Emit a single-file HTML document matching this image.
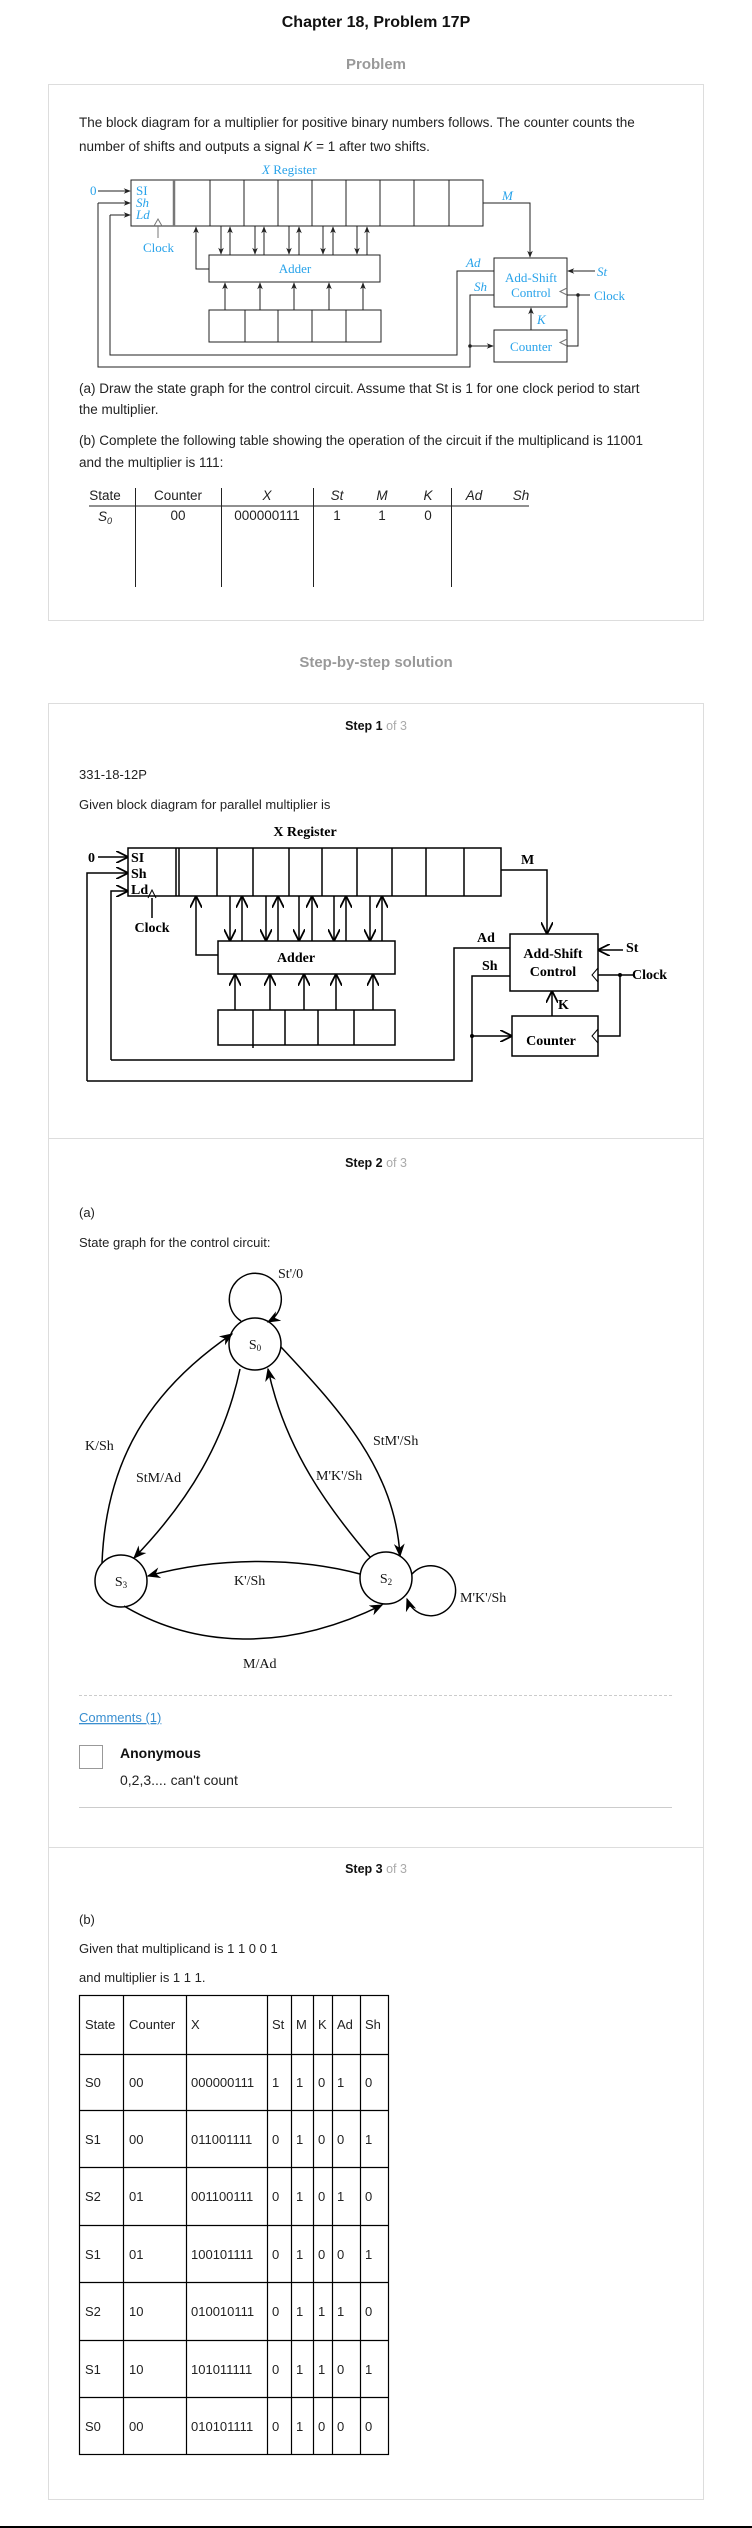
<!DOCTYPE html>
<html><head><meta charset="utf-8"><style>
html,body{margin:0;padding:0;background:#fff;}
svg{display:block;}
.s{font-family:"Liberation Sans",Arial,sans-serif;}
.r{font-family:"Liberation Serif","Times New Roman",serif;}
</style></head><body>
<svg width="752" height="2528" viewBox="0 0 752 2528" xmlns="http://www.w3.org/2000/svg">
<defs>
<marker id="a" viewBox="0 0 10 10" refX="9" refY="5" markerWidth="7" markerHeight="7" orient="auto-start-reverse"><path d="M0,1 L10,5 L0,9 L3,5 z" fill="#222"/></marker>
<marker id="b" viewBox="0 0 10 10" refX="9" refY="5" markerWidth="8" markerHeight="8" orient="auto-start-reverse"><path d="M0,0 L10,5 L0,10 M10,5" fill="none" stroke="#000" stroke-width="1.5"/></marker>
<marker id="c" viewBox="0 0 10 10" refX="9" refY="5" markerWidth="9" markerHeight="9" orient="auto-start-reverse"><path d="M0,1 L10,5 L0,9 L3,5 z" fill="#000"/></marker>
</defs>

<!-- Header -->
<text x="376" y="27" text-anchor="middle" class="s" font-size="16" font-weight="bold" fill="#111">Chapter 18, Problem 17P</text>
<text x="376" y="69" text-anchor="middle" class="s" font-size="15" font-weight="bold" fill="#999">Problem</text>
<rect x="48.5" y="84.5" width="655" height="536" fill="none" stroke="#ddd"/>

<g class="s" font-size="13.5" fill="#222">
<text x="79" y="127">The block diagram for a multiplier for positive binary numbers follows. The counter counts the</text>
<text x="79" y="151">number of shifts and outputs a signal <tspan font-style="italic">K</tspan> = 1 after two shifts.</text>
<text x="79" y="393">(a) Draw the state graph for the control circuit. Assume that St is 1 for one clock period to start</text>
<text x="79" y="414">the multiplier.</text>
<text x="79" y="445">(b) Complete the following table showing the operation of the circuit if the multiplicand is 11001</text>
<text x="79" y="467">and the multiplier is 111:</text>
</g>

<!-- Problem diagram -->
<g stroke="#222" stroke-width="1" fill="none">
<rect x="131" y="180" width="352" height="46"/>
<line x1="174" y1="180" x2="174" y2="226" stroke="#777" stroke-width="2.5"/>
<line x1="210" y1="180" x2="210" y2="226"/><line x1="244" y1="180" x2="244" y2="226"/>
<line x1="278" y1="180" x2="278" y2="226"/><line x1="312" y1="180" x2="312" y2="226"/>
<line x1="346" y1="180" x2="346" y2="226"/><line x1="380" y1="180" x2="380" y2="226"/>
<line x1="414" y1="180" x2="414" y2="226"/><line x1="449" y1="180" x2="449" y2="226"/>
<path d="M154,226 L158,219 L162,226" stroke="#777"/>
<line x1="158" y1="226" x2="158" y2="238" stroke="#777"/>
<line x1="98" y1="191" x2="130" y2="191" marker-end="url(#a)"/>
<line x1="98" y1="203" x2="130" y2="203" marker-end="url(#a)"/>
<line x1="110" y1="215" x2="130" y2="215" marker-end="url(#a)"/>
<rect x="209" y="255" width="171" height="27"/>
<path d="M209,269 H196 V227" marker-end="url(#a)"/>
<line x1="221" y1="226" x2="221" y2="254" marker-end="url(#a)"/><line x1="230" y1="255" x2="230" y2="227" marker-end="url(#a)"/>
<line x1="255" y1="226" x2="255" y2="254" marker-end="url(#a)"/><line x1="264" y1="255" x2="264" y2="227" marker-end="url(#a)"/>
<line x1="289" y1="226" x2="289" y2="254" marker-end="url(#a)"/><line x1="299" y1="255" x2="299" y2="227" marker-end="url(#a)"/>
<line x1="323" y1="226" x2="323" y2="254" marker-end="url(#a)"/><line x1="333" y1="255" x2="333" y2="227" marker-end="url(#a)"/>
<line x1="357" y1="226" x2="357" y2="254" marker-end="url(#a)"/><line x1="367" y1="255" x2="367" y2="227" marker-end="url(#a)"/>
<rect x="209" y="310" width="172" height="32"/>
<line x1="245" y1="310" x2="245" y2="342"/><line x1="278" y1="310" x2="278" y2="342"/>
<line x1="312" y1="310" x2="312" y2="342"/><line x1="346" y1="310" x2="346" y2="342"/>
<line x1="225" y1="310" x2="225" y2="283" marker-end="url(#a)"/><line x1="260" y1="310" x2="260" y2="283" marker-end="url(#a)"/>
<line x1="294" y1="310" x2="294" y2="283" marker-end="url(#a)"/><line x1="329" y1="310" x2="329" y2="283" marker-end="url(#a)"/>
<line x1="363" y1="310" x2="363" y2="283" marker-end="url(#a)"/>
<path d="M483,203 H530 V257" marker-end="url(#a)"/>
<rect x="494" y="258" width="73" height="49"/>
<rect x="494" y="330" width="73" height="32"/>
<line x1="595" y1="271" x2="568" y2="271" marker-end="url(#a)"/>
<path d="M567,295 L560,291.5 L567,288" stroke="#777"/>
<path d="M567,346 L560,342.5 L567,339" stroke="#777"/>
<path d="M590,295 H567 M578,295 V346 H567"/>
<line x1="531" y1="330" x2="531" y2="308" marker-end="url(#a)"/>
<path d="M494,271 H457 V355 H110 V215"/>
<path d="M494,295 H470 V367 H98 V203"/>
<line x1="470" y1="346" x2="493" y2="346" marker-end="url(#a)"/>
</g>
<circle cx="578" cy="295" r="1.8" fill="#222"/><circle cx="470" cy="346" r="1.8" fill="#222"/>
<g class="r" font-size="13" fill="#29a3ea">
<text x="262" y="174"><tspan font-style="italic">X</tspan> Register</text>
<text x="90" y="195">0</text>
<text x="136" y="195">SI</text>
<text x="136" y="207" font-style="italic">Sh</text>
<text x="136" y="219" font-style="italic">Ld</text>
<text x="143" y="252">Clock</text>
<text x="295" y="273" text-anchor="middle">Adder</text>
<text x="502" y="200" font-style="italic">M</text>
<text x="466" y="267" font-style="italic">Ad</text>
<text x="474" y="291" font-style="italic">Sh</text>
<text x="531" y="282" text-anchor="middle">Add-Shift</text>
<text x="531" y="297" text-anchor="middle">Control</text>
<text x="531" y="351" text-anchor="middle">Counter</text>
<text x="537" y="324" font-style="italic">K</text>
<text x="597" y="276" font-style="italic">St</text>
<text x="594" y="300">Clock</text>
</g>

<!-- Problem table -->
<g class="s" font-size="13.5" fill="#222" text-anchor="middle">
<text x="105" y="500">State</text><text x="178" y="500">Counter</text>
<text x="267" y="500" font-style="italic">X</text><text x="337" y="500" font-style="italic">St</text>
<text x="382" y="500" font-style="italic">M</text><text x="428" y="500" font-style="italic">K</text>
<text x="474" y="500" font-style="italic">Ad</text><text x="521" y="500" font-style="italic">Sh</text>
<text x="105" y="521" font-style="italic">S<tspan font-size="9" dy="3">0</tspan></text>
<text x="178" y="520">00</text><text x="267" y="520">000000111</text>
<text x="337" y="520">1</text><text x="382" y="520">1</text><text x="428" y="520">0</text>
</g>
<g stroke="#222" stroke-width="1">
<line x1="89" y1="506" x2="529" y2="506"/>
<line x1="135.5" y1="488" x2="135.5" y2="587"/><line x1="221.5" y1="488" x2="221.5" y2="587"/>
<line x1="313.5" y1="488" x2="313.5" y2="587"/><line x1="451.5" y1="488" x2="451.5" y2="587"/>
</g>

<!-- Solution -->
<text x="376" y="667" text-anchor="middle" class="s" font-size="15" font-weight="bold" fill="#999">Step-by-step solution</text>
<rect x="48.5" y="703.5" width="655" height="1796" fill="none" stroke="#ddd"/>
<line x1="48" y1="1138.5" x2="704" y2="1138.5" stroke="#ddd"/>
<line x1="48" y1="1847.5" x2="704" y2="1847.5" stroke="#ddd"/>

<text x="376" y="730" text-anchor="middle" class="s" font-size="12.5" font-weight="bold" fill="#111">Step 1 <tspan font-weight="normal" fill="#aaa">of 3</tspan></text>
<text x="79" y="779" class="s" font-size="13" fill="#222">331-18-12P</text>
<text x="79" y="809" class="s" font-size="13" fill="#222">Given block diagram for parallel multiplier is</text>

<!-- Step1 diagram -->
<g stroke="#000" stroke-width="1.5" fill="none">
<rect x="128" y="848" width="373" height="48"/>
<line x1="176" y1="848" x2="176" y2="896"/><line x1="179" y1="848" x2="179" y2="896"/>
<line x1="217" y1="848" x2="217" y2="896"/><line x1="253" y1="848" x2="253" y2="896"/>
<line x1="289" y1="848" x2="289" y2="896"/><line x1="322" y1="848" x2="322" y2="896"/>
<line x1="357" y1="848" x2="357" y2="896"/><line x1="392" y1="848" x2="392" y2="896"/>
<line x1="426" y1="848" x2="426" y2="896"/><line x1="464" y1="848" x2="464" y2="896"/>
<path d="M148,898 L152,890 L156,898" stroke-width="1"/>
<line x1="152" y1="898" x2="152" y2="918"/>
<line x1="98" y1="857" x2="127" y2="857" marker-end="url(#b)"/>
<path d="M87,1081 V873 H127" marker-end="url(#b)"/>
<path d="M111,1060 V891 H127" marker-end="url(#b)"/>
<rect x="218" y="941" width="177" height="33"/>
<path d="M218,955 H196 V897" marker-end="url(#b)"/>
<line x1="230" y1="896" x2="230" y2="940" marker-end="url(#b)"/><line x1="242" y1="941" x2="242" y2="897" marker-end="url(#b)"/>
<line x1="266" y1="896" x2="266" y2="940" marker-end="url(#b)"/><line x1="278" y1="941" x2="278" y2="897" marker-end="url(#b)"/>
<line x1="299" y1="896" x2="299" y2="940" marker-end="url(#b)"/><line x1="312" y1="941" x2="312" y2="897" marker-end="url(#b)"/>
<line x1="334" y1="896" x2="334" y2="940" marker-end="url(#b)"/><line x1="346" y1="941" x2="346" y2="897" marker-end="url(#b)"/>
<line x1="370" y1="896" x2="370" y2="940" marker-end="url(#b)"/><line x1="382" y1="941" x2="382" y2="897" marker-end="url(#b)"/>
<rect x="218" y="1010" width="177" height="35"/>
<line x1="253" y1="1010" x2="253" y2="1048"/><line x1="285" y1="1010" x2="285" y2="1045"/>
<line x1="318" y1="1010" x2="318" y2="1045"/><line x1="354" y1="1010" x2="354" y2="1045"/>
<line x1="235" y1="1010" x2="235" y2="975" marker-end="url(#b)"/><line x1="270" y1="1010" x2="270" y2="975" marker-end="url(#b)"/>
<line x1="304" y1="1010" x2="304" y2="975" marker-end="url(#b)"/><line x1="336" y1="1010" x2="336" y2="975" marker-end="url(#b)"/>
<line x1="373" y1="1010" x2="373" y2="975" marker-end="url(#b)"/>
<path d="M501,870 H547 V933" marker-end="url(#b)"/>
<rect x="510" y="934" width="88" height="57"/>
<rect x="512" y="1016" width="86" height="40"/>
<line x1="623" y1="950" x2="599" y2="950" marker-end="url(#b)"/>
<path d="M598,982 L592,975 L598,968" stroke-width="1"/>
<path d="M598,1043 L592,1036 L598,1029" stroke-width="1"/>
<path d="M633,975 H598 M620,975 V1036 H598"/>
<line x1="552" y1="1016" x2="552" y2="992" marker-end="url(#b)"/>
<path d="M510,948 H454 V1060 H111"/>
<path d="M510,976 H472 V1081 H87"/>
<line x1="472" y1="1036" x2="511" y2="1036" marker-end="url(#b)"/>
</g>
<circle cx="620" cy="975" r="2" fill="#000"/><circle cx="472" cy="1036" r="2" fill="#000"/>
<g class="r" font-size="14" font-weight="bold" fill="#000">
<text x="305" y="836" text-anchor="middle">X Register</text>
<text x="88" y="862">0</text>
<text x="131" y="862">SI</text><text x="131" y="878">Sh</text><text x="131" y="894">Ld</text>
<text x="152" y="932" text-anchor="middle">Clock</text>
<text x="296" y="962" text-anchor="middle">Adder</text>
<text x="521" y="864">M</text>
<text x="477" y="942">Ad</text>
<text x="482" y="970">Sh</text>
<text x="553" y="958" text-anchor="middle">Add-Shift</text>
<text x="553" y="976" text-anchor="middle">Control</text>
<text x="551" y="1045" text-anchor="middle">Counter</text>
<text x="558" y="1009">K</text>
<text x="626" y="952">St</text>
<text x="632" y="979">Clock</text>
</g>

<!-- Step 2 -->
<text x="376" y="1167" text-anchor="middle" class="s" font-size="12.5" font-weight="bold" fill="#111">Step 2 <tspan font-weight="normal" fill="#aaa">of 3</tspan></text>
<text x="79" y="1217" class="s" font-size="13" fill="#222">(a)</text>
<text x="79" y="1247" class="s" font-size="13" fill="#222">State graph for the control circuit:</text>

<g stroke="#000" stroke-width="1.5" fill="none">
<circle cx="255" cy="1344" r="26"/>
<circle cx="121" cy="1581" r="26"/>
<circle cx="386" cy="1578" r="26"/>
<path d="M241,1321 A26,26 0 1 1 268,1322" marker-end="url(#c)"/>
<path d="M102,1563 C106,1460 150,1390 232,1334" marker-end="url(#c)"/>
<path d="M240,1369 C225,1440 190,1500 134,1558" marker-end="url(#c)"/>
<path d="M370,1557 C330,1510 285,1450 268,1369" marker-end="url(#c)"/>
<path d="M281,1347 C340,1410 395,1470 400,1556" marker-end="url(#c)"/>
<path d="M360,1574 C300,1558 220,1556 148,1576" marker-end="url(#c)"/>
<path d="M124,1606 C190,1645 280,1655 382,1605" marker-end="url(#c)"/>
<path d="M412,1574 A25,25 0 1 1 407,1599" marker-end="url(#c)"/>
</g>
<g class="r" font-size="14" fill="#111">
<text x="255" y="1349" text-anchor="middle">S<tspan font-size="9" dy="2">0</tspan></text>
<text x="121" y="1586" text-anchor="middle">S<tspan font-size="9" dy="2">3</tspan></text>
<text x="386" y="1583" text-anchor="middle">S<tspan font-size="9" dy="2">2</tspan></text>
<text x="278" y="1278">St'/0</text>
<text x="85" y="1450">K/Sh</text>
<text x="136" y="1482">StM/Ad</text>
<text x="316" y="1480">M'K'/Sh</text>
<text x="373" y="1445">StM'/Sh</text>
<text x="234" y="1585">K'/Sh</text>
<text x="460" y="1602">M'K'/Sh</text>
<text x="243" y="1668">M/Ad</text>
</g>

<line x1="79" y1="1695.5" x2="672" y2="1695.5" stroke="#ccc" stroke-dasharray="3,2"/>
<text x="79" y="1722" class="s" font-size="13" fill="#3a8fd0" text-decoration="underline">Comments (1)</text>
<rect x="79.5" y="1745.5" width="23" height="23" fill="none" stroke="#999"/>
<text x="120" y="1758" class="s" font-size="14" font-weight="bold" fill="#111">Anonymous</text>
<text x="120" y="1785" class="s" font-size="14" fill="#222">0,2,3.... can't count</text>
<line x1="79" y1="1807.5" x2="672" y2="1807.5" stroke="#ccc"/>

<!-- Step 3 -->
<text x="376" y="1873" text-anchor="middle" class="s" font-size="12.5" font-weight="bold" fill="#111">Step 3 <tspan font-weight="normal" fill="#aaa">of 3</tspan></text>
<text x="79" y="1924" class="s" font-size="13" fill="#222">(b)</text>
<text x="79" y="1953" class="s" font-size="13" fill="#222">Given that multiplicand is 1 1 0 0 1</text>
<text x="79" y="1982" class="s" font-size="13" fill="#222">and multiplier is 1 1 1.</text>

<g stroke="#000" stroke-width="1.2" fill="none">
<rect x="79.5" y="1995.5" width="309" height="459"/>
<line x1="123.5" y1="1995" x2="123.5" y2="2455"/><line x1="186.5" y1="1995" x2="186.5" y2="2455"/>
<line x1="267.5" y1="1995" x2="267.5" y2="2455"/><line x1="291.5" y1="1995" x2="291.5" y2="2455"/>
<line x1="313.5" y1="1995" x2="313.5" y2="2455"/><line x1="332.5" y1="1995" x2="332.5" y2="2455"/>
<line x1="360.5" y1="1995" x2="360.5" y2="2455"/>
<line x1="79" y1="2054.5" x2="389" y2="2054.5"/><line x1="79" y1="2110.5" x2="389" y2="2110.5"/>
<line x1="79" y1="2167.5" x2="389" y2="2167.5"/><line x1="79" y1="2225.5" x2="389" y2="2225.5"/>
<line x1="79" y1="2282.5" x2="389" y2="2282.5"/><line x1="79" y1="2340.5" x2="389" y2="2340.5"/>
<line x1="79" y1="2397.5" x2="389" y2="2397.5"/>
</g>
<g class="s" font-size="13" fill="#222">
<text y="2029"><tspan x="85">State</tspan><tspan x="129">Counter</tspan><tspan x="191">X</tspan><tspan x="272">St</tspan><tspan x="296">M</tspan><tspan x="318">K</tspan><tspan x="337">Ad</tspan><tspan x="365">Sh</tspan></text>
<text y="2087"><tspan x="85">S0</tspan><tspan x="129">00</tspan><tspan x="191">000000111</tspan><tspan x="272">1</tspan><tspan x="296">1</tspan><tspan x="318">0</tspan><tspan x="337">1</tspan><tspan x="365">0</tspan></text>
<text y="2144"><tspan x="85">S1</tspan><tspan x="129">00</tspan><tspan x="191">011001111</tspan><tspan x="272">0</tspan><tspan x="296">1</tspan><tspan x="318">0</tspan><tspan x="337">0</tspan><tspan x="365">1</tspan></text>
<text y="2201"><tspan x="85">S2</tspan><tspan x="129">01</tspan><tspan x="191">001100111</tspan><tspan x="272">0</tspan><tspan x="296">1</tspan><tspan x="318">0</tspan><tspan x="337">1</tspan><tspan x="365">0</tspan></text>
<text y="2259"><tspan x="85">S1</tspan><tspan x="129">01</tspan><tspan x="191">100101111</tspan><tspan x="272">0</tspan><tspan x="296">1</tspan><tspan x="318">0</tspan><tspan x="337">0</tspan><tspan x="365">1</tspan></text>
<text y="2316"><tspan x="85">S2</tspan><tspan x="129">10</tspan><tspan x="191">010010111</tspan><tspan x="272">0</tspan><tspan x="296">1</tspan><tspan x="318">1</tspan><tspan x="337">1</tspan><tspan x="365">0</tspan></text>
<text y="2374"><tspan x="85">S1</tspan><tspan x="129">10</tspan><tspan x="191">101011111</tspan><tspan x="272">0</tspan><tspan x="296">1</tspan><tspan x="318">1</tspan><tspan x="337">0</tspan><tspan x="365">1</tspan></text>
<text y="2431"><tspan x="85">S0</tspan><tspan x="129">00</tspan><tspan x="191">010101111</tspan><tspan x="272">0</tspan><tspan x="296">1</tspan><tspan x="318">0</tspan><tspan x="337">0</tspan><tspan x="365">0</tspan></text>
</g>

<line x1="0" y1="2527" x2="752" y2="2527" stroke="#000" stroke-width="2"/>
</svg>
</body></html>
